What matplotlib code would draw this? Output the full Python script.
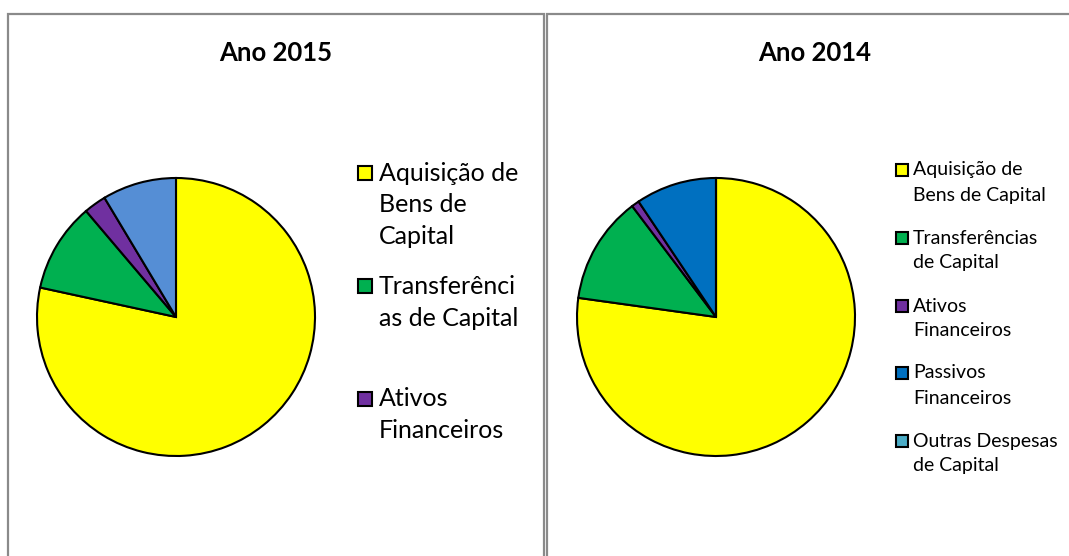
import matplotlib.pyplot as plt
from matplotlib.patches import Rectangle

# data
labels_2015 = ["Aquisição de\nBens de\nCapital", "Transferênci\nas de Capital", "Ativos\nFinanceiros", "Passivos Financeiros"]
values_2015 = [78.4, 10.4, 2.6, 8.6]
colors_2015 = ["#FFFF00", "#00B050", "#7030A0", "#558ED5"]

labels_2014 = ["Aquisição de\nBens de Capital", "Transferências\nde Capital", "Ativos\nFinanceiros",
               "Passivos\nFinanceiros", "Outras Despesas\nde Capital"]
values_2014 = [77.2, 12.5, 0.9, 9.4, 0.0]
colors_2014 = ["#FFFF00", "#00B050", "#7030A0", "#0070C0", "#4BACC6"]

W, H = 1069, 556
plt.rcParams['font.family'] = ['Lato', 'DejaVu Sans']
fig = plt.figure(figsize=(W / 100, H / 100), dpi=100)

def fx(x):
    return x / W

def fy(y):
    return 1 - y / H

# panel borders
for x0, x1 in [(8, 544), (547, 1090)]:
    fig.add_artist(Rectangle((fx(x0), fy(580)), fx(x1 - x0), (580 - 14) / H,
                             transform=fig.transFigure, fill=False,
                             edgecolor="#8A8A8A", linewidth=1.6))

def pie(cx, cy, r, values, colors):
    ax = fig.add_axes([fx(cx - r), fy(cy + r), 2 * r / W, 2 * r / H])
    ax.pie(values, colors=colors, startangle=90, counterclock=False,
           wedgeprops=dict(edgecolor="black", linewidth=1.5))
    ax.set_xlim(-1, 1)
    ax.set_ylim(-1, 1)
    ax.axis("off")

def legend(x, ys, lh, labels, colors, size, sq, gap):
    for y, lab, c in zip(ys, labels, colors):
        fig.add_artist(Rectangle((fx(x), fy(y + sq / 2)), sq / W, sq / H,
                                 transform=fig.transFigure, facecolor=c,
                                 edgecolor="black", linewidth=1.5))
        for i, line in enumerate(lab.split("\n")):
            fig.text(fx(x + sq + gap), fy(y + i * lh), line, fontsize=size,
                     va="center", ha="left", color="black")

pie(176, 317, 139, values_2015, colors_2015)
pie(716, 317, 139, values_2014, colors_2014)

fig.text(fx(276), fy(53), "Ano 2015", fontsize=18.5, fontweight="bold", ha="center", va="center")
fig.text(fx(815), fy(53), "Ano 2014", fontsize=18.5, fontweight="bold", ha="center", va="center")

# left legend only shows the first three entries
legend(358, [173, 286, 399], 32, labels_2015[:3], colors_2015[:3], 18, 14, 7)
legend(896, [170, 238, 306, 373, 441], 25, labels_2014, colors_2014, 14, 12, 5)

fig.savefig("out.png", dpi=100)
